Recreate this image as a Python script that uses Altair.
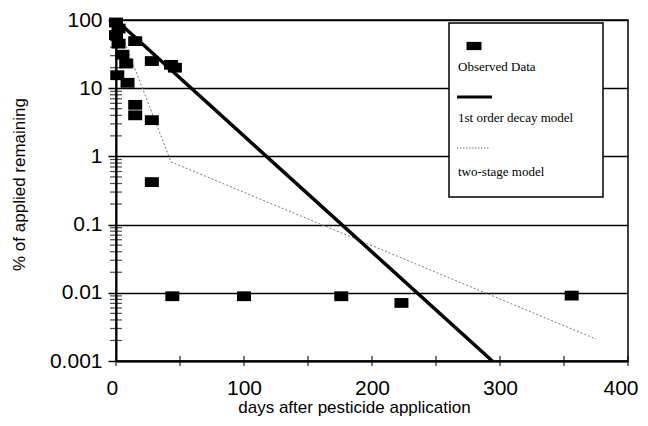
import altair as alt
import pandas as pd

# ---------------- data ----------------
obs_days = [0, 2, 0, 2, 5, 8, 1, 9, 15, 28, 43, 46, 15, 15, 28, 28,
            44, 100, 176, 223, 356]
obs_vals = [92, 75, 60, 45, 31, 23, 15.5, 12, 49, 25, 22, 20, 5.7, 4.0, 3.4, 0.42,
            0.0089, 0.0089, 0.0089, 0.0071, 0.0091]

first_days = [0, 294]
first_vals = [100, 0.001]

two_days = [0, 43, 375]
two_vals = [100, 0.83, 0.0021]

y_ticks = [0.001, 0.01, 0.1, 1, 10, 100]
y_minor = [0.002, 0.003, 0.004, 0.005, 0.006, 0.007, 0.008, 0.009,
           0.02, 0.03, 0.04, 0.05, 0.06, 0.07, 0.08, 0.09,
           0.2, 0.3, 0.4, 0.5, 0.6, 0.7, 0.8, 0.9,
           2, 3, 4, 5, 6, 7, 8, 9,
           20, 30, 40, 50, 60, 70, 80, 90]
x_ticks = [0, 100, 200, 300, 400]
x_minor = [0, 50, 100, 150, 200, 250, 300, 350, 400]

legend_labels = ["Observed Data", "1st order decay model", "two-stage model"]
x_title = "days after pesticide application"
y_title = "% of applied remaining"

# ---------------- chart ----------------
W, H = 512, 341
xscale = alt.Scale(domain=[0, 400], nice=False, zero=False)
yscale = alt.Scale(type="log", domain=[0.001, 100], nice=False)

obs_df = pd.DataFrame({"day": obs_days, "val": obs_vals})
first_df = pd.DataFrame({"day": first_days, "val": first_vals})
two_df = pd.DataFrame({"day": two_days, "val": two_vals})
ymin_df = pd.DataFrame({"val": y_minor})
xmin_df = pd.DataFrame({"day": x_minor})
one = pd.DataFrame({"k": [0]})

rect_shape = "M-1,-0.7L1,-0.7L1,0.7L-1,0.7Z"
leg_shape = "M-1,-0.55L1,-0.55L1,0.55L-1,0.55Z"

x_axis = alt.Axis(values=x_ticks, tickSize=0, grid=False, labelPadding=16,
                  labelFlush=True, labelFlushOffset=10,
                  title=x_title, titleX=238, titleY=51,
                  titleBaseline="alphabetic", titleAlign="center")
y_axis = alt.Axis(values=y_ticks, format="~g", tickSize=8, tickColor="black",
                  tickWidth=1.5, grid=True, labelPadding=6, title=y_title,
                  titleX=-92, titleY=164, titleAngle=270,
                  titleBaseline="alphabetic", titleAlign="center")

X = alt.X("day:Q", scale=xscale, axis=x_axis)
Y = alt.Y("val:Q", scale=yscale, axis=y_axis)

two = alt.Chart(two_df).mark_line(color="#777777", strokeWidth=1,
                                  strokeDash=[2, 2]).encode(x=X, y=Y)
first = alt.Chart(first_df).mark_line(color="black", strokeWidth=3.5).encode(x=X, y=Y)
obs = alt.Chart(obs_df).mark_point(shape=rect_shape, filled=True, size=196,
                                   color="black", opacity=1).encode(x=X, y=Y)
yminor = alt.Chart(ymin_df).mark_tick(orient="horizontal", color="black",
                                      size=12, thickness=1.2).encode(
    y=Y, x=alt.value(0))
xminor = alt.Chart(xmin_df).mark_tick(orient="vertical", color="black",
                                      size=10, thickness=1.5).encode(
    x=X, y=alt.value(H))

# legend (drawn like the original: symbol above label, inside a framed box)
leg_box = alt.Chart(one).mark_rect(fill="white", stroke="black",
                                   strokeWidth=1.5).encode(
    x=alt.value(333), x2=alt.value(487), y=alt.value(3), y2=alt.value(177))
leg_sym = alt.Chart(one).mark_point(shape=leg_shape, filled=True, size=225,
                                    color="black", opacity=1).encode(
    x=alt.value(358), y=alt.value(26))
leg_line1 = alt.Chart(one).mark_rule(color="black", strokeWidth=3).encode(
    x=alt.value(341), x2=alt.value(376), y=alt.value(77))
leg_line2 = alt.Chart(one).mark_rule(color="#777777", strokeWidth=1,
                                     strokeDash=[1.5, 1.5]).encode(
    x=alt.value(341), x2=alt.value(374), y=alt.value(128))
txt_kw = dict(align="left", baseline="alphabetic", font="Liberation Serif",
              fontSize=13, color="black")
leg_t1 = alt.Chart(one).mark_text(**txt_kw).encode(
    x=alt.value(342), y=alt.value(51), text=alt.value(legend_labels[0]))
leg_t2 = alt.Chart(one).mark_text(**txt_kw).encode(
    x=alt.value(342), y=alt.value(102), text=alt.value(legend_labels[1]))
leg_t3 = alt.Chart(one).mark_text(**txt_kw).encode(
    x=alt.value(342), y=alt.value(156), text=alt.value(legend_labels[2]))

chart = alt.layer(
    two, first, obs, yminor, xminor,
    leg_box, leg_sym, leg_line1, leg_line2, leg_t1, leg_t2, leg_t3,
).properties(
    width=W, height=H,
    autosize=alt.AutoSizeParams(type="none"),
    padding={"left": 108, "top": 12, "right": 12, "bottom": 57},
).configure_view(
    stroke="black", strokeWidth=1.5,
).configure_axis(
    domainColor="black", domainWidth=2,
    gridColor="black", gridWidth=1.5, gridOpacity=1,
    labelFont="Liberation Sans", labelFontSize=21, labelColor="black",
    titleFont="Liberation Sans", titleFontSize=17, titleFontWeight="normal",
    titleColor="black",
)

chart.save("out.html", embed_options={"renderer": "svg", "actions": False})
